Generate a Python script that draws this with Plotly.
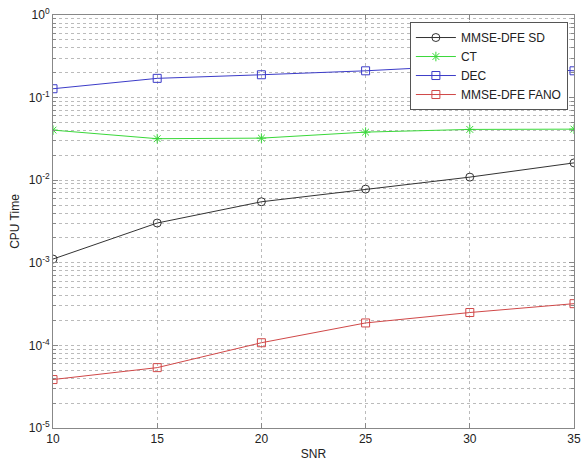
import plotly.graph_objects as go

snr = [10, 15, 20, 25, 30, 35]
mmse_sd = [0.00111, 0.00303, 0.00548, 0.0078, 0.0109, 0.0162]
ct = [0.0404, 0.0318, 0.0323, 0.0382, 0.0412, 0.0415]
dec = [0.128, 0.171, 0.189, 0.211, 0.245, 0.211]
fano = [3.86e-5, 5.38e-5, 1.077e-4, 1.87e-4, 2.5e-4, 3.2e-4]

x_ticks = [10, 15, 20, 25, 30, 35]
y_exps = [-5, -4, -3, -2, -1, 0]
y_ticktext = ["10<sup>%d</sup>" % e for e in y_exps]

series = [
    ("MMSE-DFE SD", mmse_sd, "#333333", "circle-open"),
    ("CT", ct, "#3ad83a", "asterisk-open"),
    ("DEC", dec, "#3c3cc8", "square-open"),
    ("MMSE-DFE FANO", fano, "#d04848", "square-open"),
]

fig = go.Figure()
for name, vals, col, sym in series:
    fig.add_trace(go.Scatter(
        x=snr, y=vals, name=name, mode="lines+markers",
        line=dict(color=col, width=1),
        marker=dict(symbol=sym, size=8, color=col, line=dict(color=col, width=1)),
    ))

minor_vals = [m * 10 ** e for e in range(-5, 0) for m in range(2, 10)]

fig.update_layout(
    width=587, height=465,
    margin=dict(l=53, r=6, t=14, b=36),
    paper_bgcolor="white", plot_bgcolor="white",
    font=dict(family="Liberation Sans, Arial, sans-serif", size=12, color="#222222"),
    showlegend=True,
    legend=dict(
        x=0.685, y=0.983, xanchor="left", yanchor="top",
        bgcolor="white", bordercolor="#555555", borderwidth=1,
        font=dict(size=12), tracegroupgap=0, itemwidth=40,
    ),
    xaxis=dict(
        range=[10, 35], tickvals=x_ticks, ticktext=[str(v) for v in x_ticks],
        showline=True, linecolor="#888888", linewidth=1, mirror="ticks",
        ticks="inside", ticklen=5, tickcolor="#888888",
        showgrid=True, gridcolor="#bbbbbb", griddash="dot", gridwidth=1,
        zeroline=False,
        title=dict(text="SNR", standoff=4, font=dict(size=12)),
    ),
    yaxis=dict(
        type="log", range=[-5, 0],
        tickvals=[10 ** e for e in y_exps], ticktext=y_ticktext,
        showline=True, linecolor="#888888", linewidth=1, mirror="ticks",
        ticks="inside", ticklen=5, tickcolor="#888888",
        showgrid=True, gridcolor="#bbbbbb", griddash="dot", gridwidth=1,
        zeroline=False,
        minor=dict(tickvals=minor_vals, ticks="inside", ticklen=3, tickcolor="#888888",
                   showgrid=True, gridcolor="#bbbbbb", griddash="dot", gridwidth=1),
        title=dict(text="CPU Time", standoff=6, font=dict(size=12)),
    ),
)

fig.write_html("out.html")
